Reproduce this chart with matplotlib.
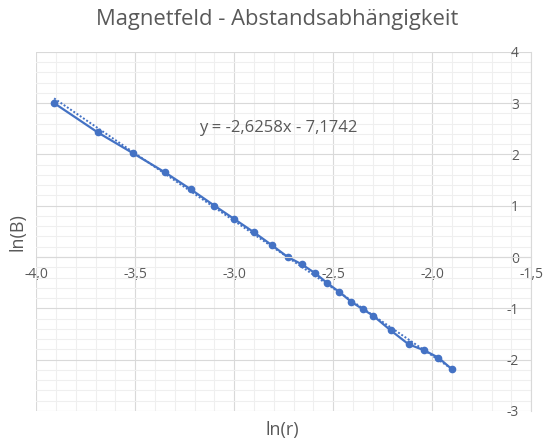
import matplotlib
matplotlib.use("Agg")
import matplotlib.pyplot as plt
from matplotlib.ticker import MultipleLocator, FuncFormatter
import numpy as np

plt.rcParams["font.family"] = ["Open Sans", "DejaVu Sans"]

ln_r = [-3.91, -3.69, -3.51, -3.35, -3.22, -3.10, -3.00, -2.90, -2.81, -2.73, -2.66,
        -2.59, -2.53, -2.47, -2.41, -2.35, -2.30, -2.21, -2.12, -2.04, -1.97, -1.90]
ln_B = [3.00, 2.43, 2.02, 1.65, 1.32, 1.00, 0.74, 0.48, 0.23, 0.00, -0.14,
        -0.32, -0.51, -0.68, -0.87, -1.02, -1.14, -1.43, -1.70, -1.82, -1.96, -2.19]

# Trendlinie
slope = -2.6258
intercept = -7.1742

blue = "#4472C4"
text_col = "#595959"

fig = plt.figure(figsize=(5.54, 4.44), dpi=100)
ax = fig.add_axes([0.0655, 0.0745, 0.8935, 0.8088])

ax.set_xlim(-4, -1.5)
ax.set_ylim(-3, 4)

ax.xaxis.set_major_locator(MultipleLocator(0.5))
ax.xaxis.set_minor_locator(MultipleLocator(0.1))
ax.yaxis.set_major_locator(MultipleLocator(1))
ax.yaxis.set_minor_locator(MultipleLocator(0.2))

ax.grid(which="minor", color="#EFEFEF", linewidth=0.8)
ax.grid(which="major", color="#D9D9D9", linewidth=0.8)
ax.set_axisbelow(True)

for s in ["top", "right"]:
    ax.spines[s].set_visible(False)
ax.spines["bottom"].set_position(("data", 0))
ax.spines["left"].set_position(("data", -1.5))
ax.spines["bottom"].set_color("#D9D9D9")
ax.spines["left"].set_color("#D9D9D9")

ax.tick_params(which="both", length=0, colors=text_col, labelsize=10)
ax.tick_params(axis="x", pad=7)
ax.tick_params(axis="y", pad=9)
ax.xaxis.set_major_formatter(FuncFormatter(lambda v, p: f"{v:.1f}".replace(".", ",")))
ax.yaxis.set_major_formatter(FuncFormatter(lambda v, p: f"{v:.0f}"))

xt = np.array([min(ln_r), max(ln_r)])
ax.plot(xt, slope * xt + intercept, color=blue, linestyle=(0, (1, 1)), linewidth=1.4)
ax.plot(ln_r, ln_B, color=blue, linewidth=1.6, marker="o", markersize=4.5)

ax.text(-2.78, 2.51, "y = -2,6258x - 7,1742", color=text_col, fontsize=12,
        ha="center", va="center")

fig.text(0.500, 0.957, "Magnetfeld - Abstandsabhängigkeit", color=text_col,
         fontsize=15.8, ha="center", va="center")
fig.text(0.510, 0.032, "ln(r)", color=text_col, fontsize=13, ha="center", va="center")
fig.text(0.032, 0.477, "ln(B)", color=text_col, fontsize=13, ha="center", va="center",
         rotation=90)

fig.savefig("out.png", dpi=100, facecolor="white")
